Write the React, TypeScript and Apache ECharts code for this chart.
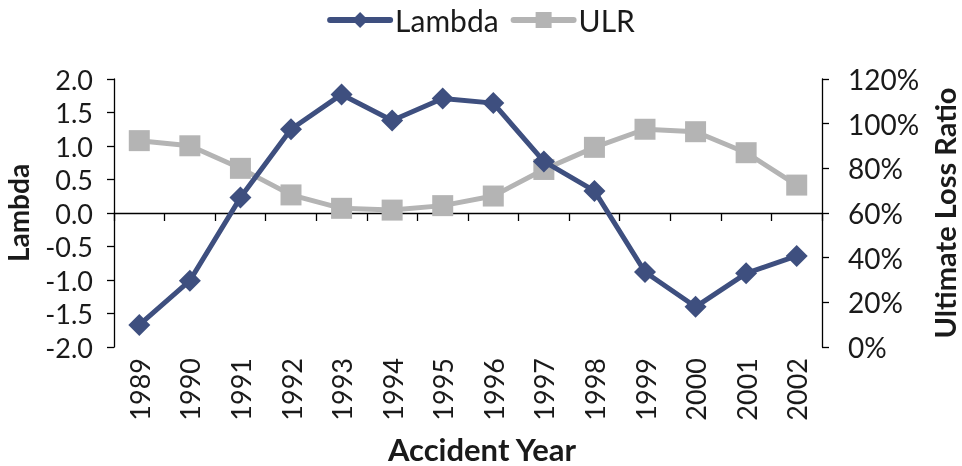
import React, { useEffect, useRef } from "react";
import * as echarts from "echarts";

const years = ["1989","1990","1991","1992","1993","1994","1995","1996","1997","1998","1999","2000","2001","2002"];
const lambda = [-1.67, -1.01, 0.23, 1.25, 1.77, 1.38, 1.71, 1.64, 0.77, 0.33, -0.88, -1.4, -0.9, -0.64];
const ulr = [92.4, 90.1, 80.0, 68.1, 62.1, 61.3, 63.3, 67.6, 79.5, 89.4, 97.5, 96.4, 87.0, 72.5];

const NAVY = "#3E4F7F";
const GRAY = "#B4B4B4";
const FONT = "Lato";
const TXT = "#1a1a1a";

export default function App() {
  const ref = useRef<HTMLDivElement>(null);
  useEffect(() => {
    const chart = echarts.init(ref.current!, null, { renderer: "svg" });
    chart.setOption({
      animation: false,
      textStyle: { fontFamily: FONT, color: TXT },
      legend: {
        top: 0,
        left: "center",
        itemWidth: 60,
        itemHeight: 20,
        itemGap: 12,
        lineStyle: { width: 6, cap: "round" },
        textStyle: { fontSize: 30, fontFamily: FONT, color: TXT },
        data: ["Lambda", "ULR"],
      },
      grid: { left: 114, right: 140, top: 79, bottom: 119, containLabel: false, outerBoundsMode: "none" },
      xAxis: [
        {
          type: "category",
          data: years,
          boundaryGap: true,
          position: "bottom",
          axisLine: { show: true, onZero: true, onZeroAxisIndex: 0, lineStyle: { color: "#000", width: 1.3 } },
          axisTick: { show: true, length: 8, alignWithLabel: false, lineStyle: { color: "#000", width: 1.3 } },
          axisLabel: { show: false },
          splitLine: { show: false },
        },
        {
          type: "category",
          data: years,
          boundaryGap: true,
          position: "bottom",
          axisLine: { show: false, onZero: false },
          axisTick: { show: false },
          axisLabel: { show: true, rotate: 90, margin: 11, fontSize: 27, fontFamily: FONT, color: TXT, interval: 0 },
          splitLine: { show: false },
          name: "Accident Year",
          nameLocation: "middle",
          nameGap: 86,
          nameTextStyle: { fontSize: 31, fontWeight: "bold", fontFamily: FONT, color: TXT, padding: [0, 0, 0, 28] },
        },
      ],
      yAxis: [
        {
          type: "value",
          min: -2,
          max: 2,
          interval: 0.5,
          position: "left",
          axisLine: { show: true, onZero: false, lineStyle: { color: "#000", width: 1.3 } },
          axisTick: { show: true, length: 7, lineStyle: { color: "#000", width: 1.3 } },
          axisLabel: { margin: 21, fontSize: 27, fontFamily: FONT, color: TXT, formatter: (v: number) => v.toFixed(1) },
          splitLine: { show: false },
          name: "Lambda",
          nameLocation: "middle",
          nameRotate: 90,
          nameGap: 82,
          nameTextStyle: { fontSize: 28, fontWeight: "bold", fontFamily: FONT, color: TXT },
        },
        {
          type: "value",
          min: 0,
          max: 120,
          interval: 20,
          position: "right",
          axisLine: { show: true, onZero: false, lineStyle: { color: "#000", width: 1.3 } },
          axisTick: { show: true, length: 7, lineStyle: { color: "#000", width: 1.3 } },
          axisLabel: { margin: 26, fontSize: 28, fontFamily: FONT, color: TXT, formatter: "{value}%" },
          splitLine: { show: false },
          name: "Ultimate Loss Ratio",
          nameLocation: "middle",
          nameRotate: 90,
          nameGap: 103,
          nameTextStyle: { fontSize: 29, lineHeight: 29, fontWeight: "bold", fontFamily: FONT, color: TXT },
        },
      ],
      series: [
        {
          name: "Lambda",
          type: "line",
          data: lambda,
          xAxisIndex: 0,
          yAxisIndex: 0,
          symbol: "diamond",
          symbolSize: 22,
          showAllSymbol: true,
          lineStyle: { color: NAVY, width: 5 },
          itemStyle: { color: NAVY },
          z: 3,
        },
        {
          name: "ULR",
          type: "line",
          data: ulr,
          xAxisIndex: 0,
          yAxisIndex: 1,
          symbol: "rect",
          symbolSize: 21,
          showAllSymbol: true,
          lineStyle: { color: GRAY, width: 5 },
          itemStyle: { color: GRAY },
          z: 2,
        },
      ],
    });
    return () => chart.dispose();
  }, []);
  return <div ref={ref} style={{ position: "fixed", left: 0, top: 0, width: 962, height: 466 }} />;
}
